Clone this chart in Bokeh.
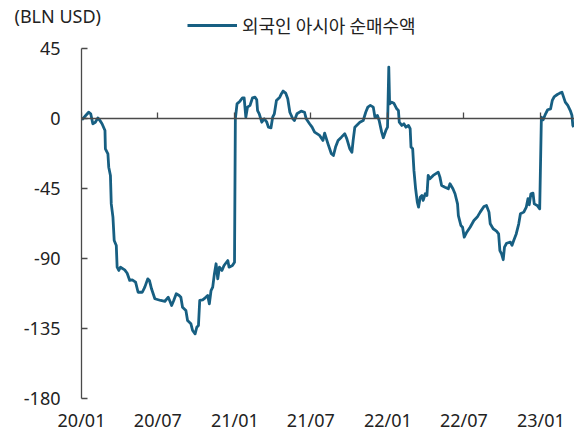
import pandas as pd
from bokeh.plotting import figure
from bokeh.models import (Range1d, FixedTicker, DatetimeAxis, Legend, LegendItem, Title,
                          CustomJSTickFormatter)
from bokeh.embed import file_html
from bokeh.resources import INLINE

# ---------------- data ----------------
series_name = "외국인 아시아 순매수액"
unit_label = "(BLN USD)"

dates = [
    "2020-01-02", "2020-01-11", "2020-01-18", "2020-01-23", "2020-01-28", "2020-02-03",
    "2020-02-09", "2020-02-13", "2020-02-19", "2020-02-26", "2020-02-27", "2020-03-04",
    "2020-03-06", "2020-03-10", "2020-03-12", "2020-03-16", "2020-03-19", "2020-03-24",
    "2020-03-26", "2020-03-30", "2020-04-03", "2020-04-13", "2020-04-19", "2020-04-25",
    "2020-05-01", "2020-05-09", "2020-05-15", "2020-05-25", "2020-05-31", "2020-06-07",
    "2020-06-11", "2020-06-16", "2020-06-24", "2020-07-08", "2020-07-18", "2020-07-26",
    "2020-07-30", "2020-08-03", "2020-08-08", "2020-08-14", "2020-08-21", "2020-08-25",
    "2020-08-29", "2020-09-06", "2020-09-10", "2020-09-18", "2020-09-22", "2020-09-28",
    "2020-10-02", "2020-10-06", "2020-10-09", "2020-10-16", "2020-10-22", "2020-10-28",
    "2020-11-01", "2020-11-05", "2020-11-09", "2020-11-13", "2020-11-17", "2020-11-21",
    "2020-11-25", "2020-12-01", "2020-12-06", "2020-12-15", "2020-12-18", "2020-12-26",
    "2020-12-31", "2021-01-02", "2021-01-06", "2021-01-13", "2021-01-19", "2021-01-23",
    "2021-01-27", "2021-01-31", "2021-02-06", "2021-02-12", "2021-02-18", "2021-02-22",
    "2021-02-24", "2021-02-28", "2021-03-06", "2021-03-12", "2021-03-18", "2021-03-22",
    "2021-03-28", "2021-04-01", "2021-04-05", "2021-04-10", "2021-04-18", "2021-04-22",
    "2021-04-26", "2021-05-02", "2021-05-07", "2021-05-12", "2021-05-19", "2021-05-23",
    "2021-05-29", "2021-06-08", "2021-06-16", "2021-06-20", "2021-06-28", "2021-07-04",
    "2021-07-10", "2021-07-22", "2021-07-30", "2021-08-03", "2021-08-11", "2021-08-19",
    "2021-08-24", "2021-08-29", "2021-09-04", "2021-09-12", "2021-09-20", "2021-09-25",
    "2021-10-02", "2021-10-07", "2021-10-10", "2021-10-14", "2021-10-26", "2021-11-03",
    "2021-11-09", "2021-11-14", "2021-11-20", "2021-11-27", "2021-12-01", "2021-12-07",
    "2021-12-11", "2021-12-17", "2021-12-21", "2021-12-27", "2021-12-31", "2022-01-03",
    "2022-01-05", "2022-01-10", "2022-01-15", "2022-01-22", "2022-01-26", "2022-01-28",
    "2022-02-03", "2022-02-08", "2022-02-13", "2022-02-19", "2022-02-23", "2022-02-25",
    "2022-03-01", "2022-03-04", "2022-03-08", "2022-03-12", "2022-03-15", "2022-03-19",
    "2022-03-23", "2022-03-26", "2022-03-31", "2022-04-04", "2022-04-07", "2022-04-11",
    "2022-04-19", "2022-05-01", "2022-05-05", "2022-05-09", "2022-05-17", "2022-05-25",
    "2022-05-29", "2022-06-05", "2022-06-10", "2022-06-16", "2022-06-18", "2022-06-24",
    "2022-06-28", "2022-07-02", "2022-07-08", "2022-07-16", "2022-07-25", "2022-08-02",
    "2022-08-09", "2022-08-18", "2022-08-24", "2022-08-30", "2022-09-02", "2022-09-09",
    "2022-09-17", "2022-09-22", "2022-09-25", "2022-09-29", "2022-10-03", "2022-10-06",
    "2022-10-11", "2022-10-20", "2022-10-24", "2022-10-28", "2022-11-03", "2022-11-09",
    "2022-11-13", "2022-11-21", "2022-11-27", "2022-12-01", "2022-12-04", "2022-12-08",
    "2022-12-13", "2022-12-16", "2022-12-23", "2022-12-29", "2023-01-02", "2023-01-06",
    "2023-01-12", "2023-01-17", "2023-01-24", "2023-01-28", "2023-02-02", "2023-02-09",
    "2023-02-15", "2023-02-20", "2023-02-24", "2023-02-28", "2023-03-06", "2023-03-12",
    "2023-03-16", "2023-03-18", "2023-03-20",
]

values = [
    -0.9, 1.9, 4.0, 3.0, -3.4, -2.4,
    0.4, -0.9, -3.4, -7.7, -19.5, -22.7,
    -31.3, -36.6, -54.9, -63.4, -78.4, -81.7,
    -95.6, -97.7, -95.6, -97.3, -99.5, -104.1,
    -103.7, -105.2, -111.7, -111.7, -108.4, -103.1,
    -104.1, -109.5, -115.9, -117.0, -117.5, -114.9,
    -117.5, -120.2, -117.0, -112.7, -113.8, -114.9,
    -121.3, -123.4, -129.9, -132.0, -136.3, -138.4,
    -134.2, -133.1, -117.0, -116.6, -115.3, -113.8,
    -119.2, -110.6, -108.4, -99.9, -93.4, -103.1,
    -95.6, -97.7, -94.5, -91.3, -95.6, -94.5,
    -92.4, -0.2, 9.4, 11.1, 13.3, 13.3,
    0.8, 7.3, 8.4, 13.3, 13.7, 12.0,
    5.1, 3.0, -2.4, -0.2, -2.4, -5.6,
    -6.0, 0.8, 3.0, 11.6, 13.7, 15.9,
    17.6, 16.3, 12.7, 4.0, -0.2, -1.3,
    3.0, 4.7, 4.0, -0.2, -3.4, -5.6,
    -8.8, -10.9, -14.1, -9.4, -16.3, -22.7,
    -23.8, -18.4, -14.1, -12.0, -9.8, -13.1,
    -19.5, -21.7, -14.1, -5.6, -2.4, -1.3,
    4.0, 7.3, 8.4, 7.3, 0.8, 1.9,
    -1.3, -8.8, -12.4, -7.7, -5.6, 33.0,
    9.4, 10.5, 9.8, 6.2, 5.1, -2.4,
    -4.5, -3.4, -5.6, -4.5, -6.6, -18.4,
    -19.5, -33.4, -45.2, -53.8, -57.0, -50.6,
    -49.5, -52.7, -48.4, -49.5, -36.6, -38.8,
    -36.6, -34.5, -37.7, -43.1, -44.2, -45.2,
    -42.0, -45.2, -48.4, -54.9, -62.4, -68.8,
    -69.9, -76.3, -73.1, -69.9, -65.6, -63.4,
    -60.2, -56.6, -55.9, -60.2, -67.7, -70.9,
    -72.4, -74.2, -84.9, -87.0, -90.8, -82.7,
    -80.2, -79.5, -81.5, -78.4, -74.2, -67.7,
    -61.3, -60.2, -57.0, -51.6, -55.5, -48.4,
    -48.0, -54.9, -55.9, -58.1, 0.8, -0.9,
    3.0, 5.6, 6.2, 11.6, 14.1, 15.4,
    16.3, 16.9, 13.7, 10.5, 8.4, 5.1,
    1.9, -4.5, -5.6,
]

x_tick_dates = ["2020-01-01", "2020-07-01", "2021-01-01", "2021-07-01",
                "2022-01-01", "2022-07-01", "2023-01-01"]
x_tick_labels = ["20/01", "20/07", "21/01", "21/07", "22/01", "22/07", "23/01"]
y_ticks = [45, 0, -45, -90, -135, -180]
y_tick_labels = ["45", "0", "-45", "-90", "-135", "-180"]
y_axis_bounds = (-180, 45)
x_start, x_end = "2020-01-01", "2023-03-22"
y_start, y_end = -180, 69.4   # headroom above 45 keeps the legend inside the frame

# ---------------- styling ----------------
LINE_COLOR = "#175f82"
AXIS_COLOR = "#4a4a4a"
TEXT_COLOR = "#222222"
NUM_FONT = "Noto Sans"
KR_FONT = "Noto Sans CJK KR"
FS = "18px"

x = pd.to_datetime(dates)
x_tick_ms = [int(pd.Timestamp(d).value // 10**6) for d in x_tick_dates]
x_overrides = {ms: lab for ms, lab in zip(x_tick_ms, x_tick_labels)}
y_overrides = {t: lab for t, lab in zip(y_ticks, y_tick_labels)}

p = figure(width=574, height=435, x_axis_type="datetime",
           x_range=Range1d(pd.Timestamp(x_start), pd.Timestamp(x_end)),
           y_range=Range1d(y_start, y_end),
           output_backend="svg", toolbar_location=None,
           min_border_left=81, min_border_right=0, min_border_top=10, min_border_bottom=37)
p.outline_line_color = None
p.xgrid.visible = False
p.ygrid.visible = False

r = p.line(x, values, line_color=LINE_COLOR, line_width=2.8, line_join="round")

# zero line axis with upward ticks (nearest the frame, drawn at y = 0), no labels
zx = DatetimeAxis(ticker=FixedTicker(ticks=x_tick_ms), fixed_location=0,
                  formatter=CustomJSTickFormatter(code="return ''"))
zx.axis_line_color = AXIS_COLOR
zx.axis_line_width = 1.3
zx.major_tick_line_color = AXIS_COLOR
zx.major_tick_line_width = 1.3
zx.major_tick_out = 0
zx.major_tick_in = 6
zx.minor_tick_line_color = None
zx.major_label_text_font_size = "0px"
zx.major_label_standoff = 0
p.below.insert(0, zx)

# bottom axis: labels only
bx = None
for ax in p.xaxis:
    if ax is not zx:
        bx = ax
bx.ticker = FixedTicker(ticks=x_tick_ms)
bx.major_label_overrides = x_overrides
bx.axis_line_color = None
bx.major_tick_line_color = None
bx.minor_tick_line_color = None
bx.major_tick_out = 0
bx.major_tick_in = 0
bx.major_label_standoff = 9
bx.major_label_text_font = NUM_FONT
bx.major_label_text_font_size = FS
bx.major_label_text_color = TEXT_COLOR

# left axis
ly = p.yaxis[0]
ly.ticker = FixedTicker(ticks=y_ticks)
ly.bounds = y_axis_bounds
ly.major_label_overrides = y_overrides
ly.axis_line_color = AXIS_COLOR
ly.axis_line_width = 1.3
ly.major_tick_line_color = AXIS_COLOR
ly.major_tick_line_width = 1.3
ly.major_tick_in = 6
ly.major_tick_out = 0
ly.minor_tick_line_color = None
ly.major_label_standoff = 21
ly.major_label_text_font = NUM_FONT
ly.major_label_text_font_size = FS
ly.major_label_text_color = TEXT_COLOR

legend = Legend(items=[LegendItem(label=series_name, renderers=[r])],
                location=(106, 360), orientation="horizontal",
                glyph_width=50, glyph_height=20, label_height=20, label_standoff=5,
                padding=0, margin=0, spacing=0,
                border_line_color=None, background_fill_alpha=0,
                label_text_font=KR_FONT, label_text_font_size=FS,
                label_text_color=TEXT_COLOR)
p.add_layout(legend)

p.add_layout(Title(text=unit_label, align="left", offset=-67, standoff=-34,
                   text_font=NUM_FONT, text_font_size=FS, text_font_style="normal",
                   text_color=TEXT_COLOR), "above")

open("out.html", "w").write(file_html(p, INLINE))
